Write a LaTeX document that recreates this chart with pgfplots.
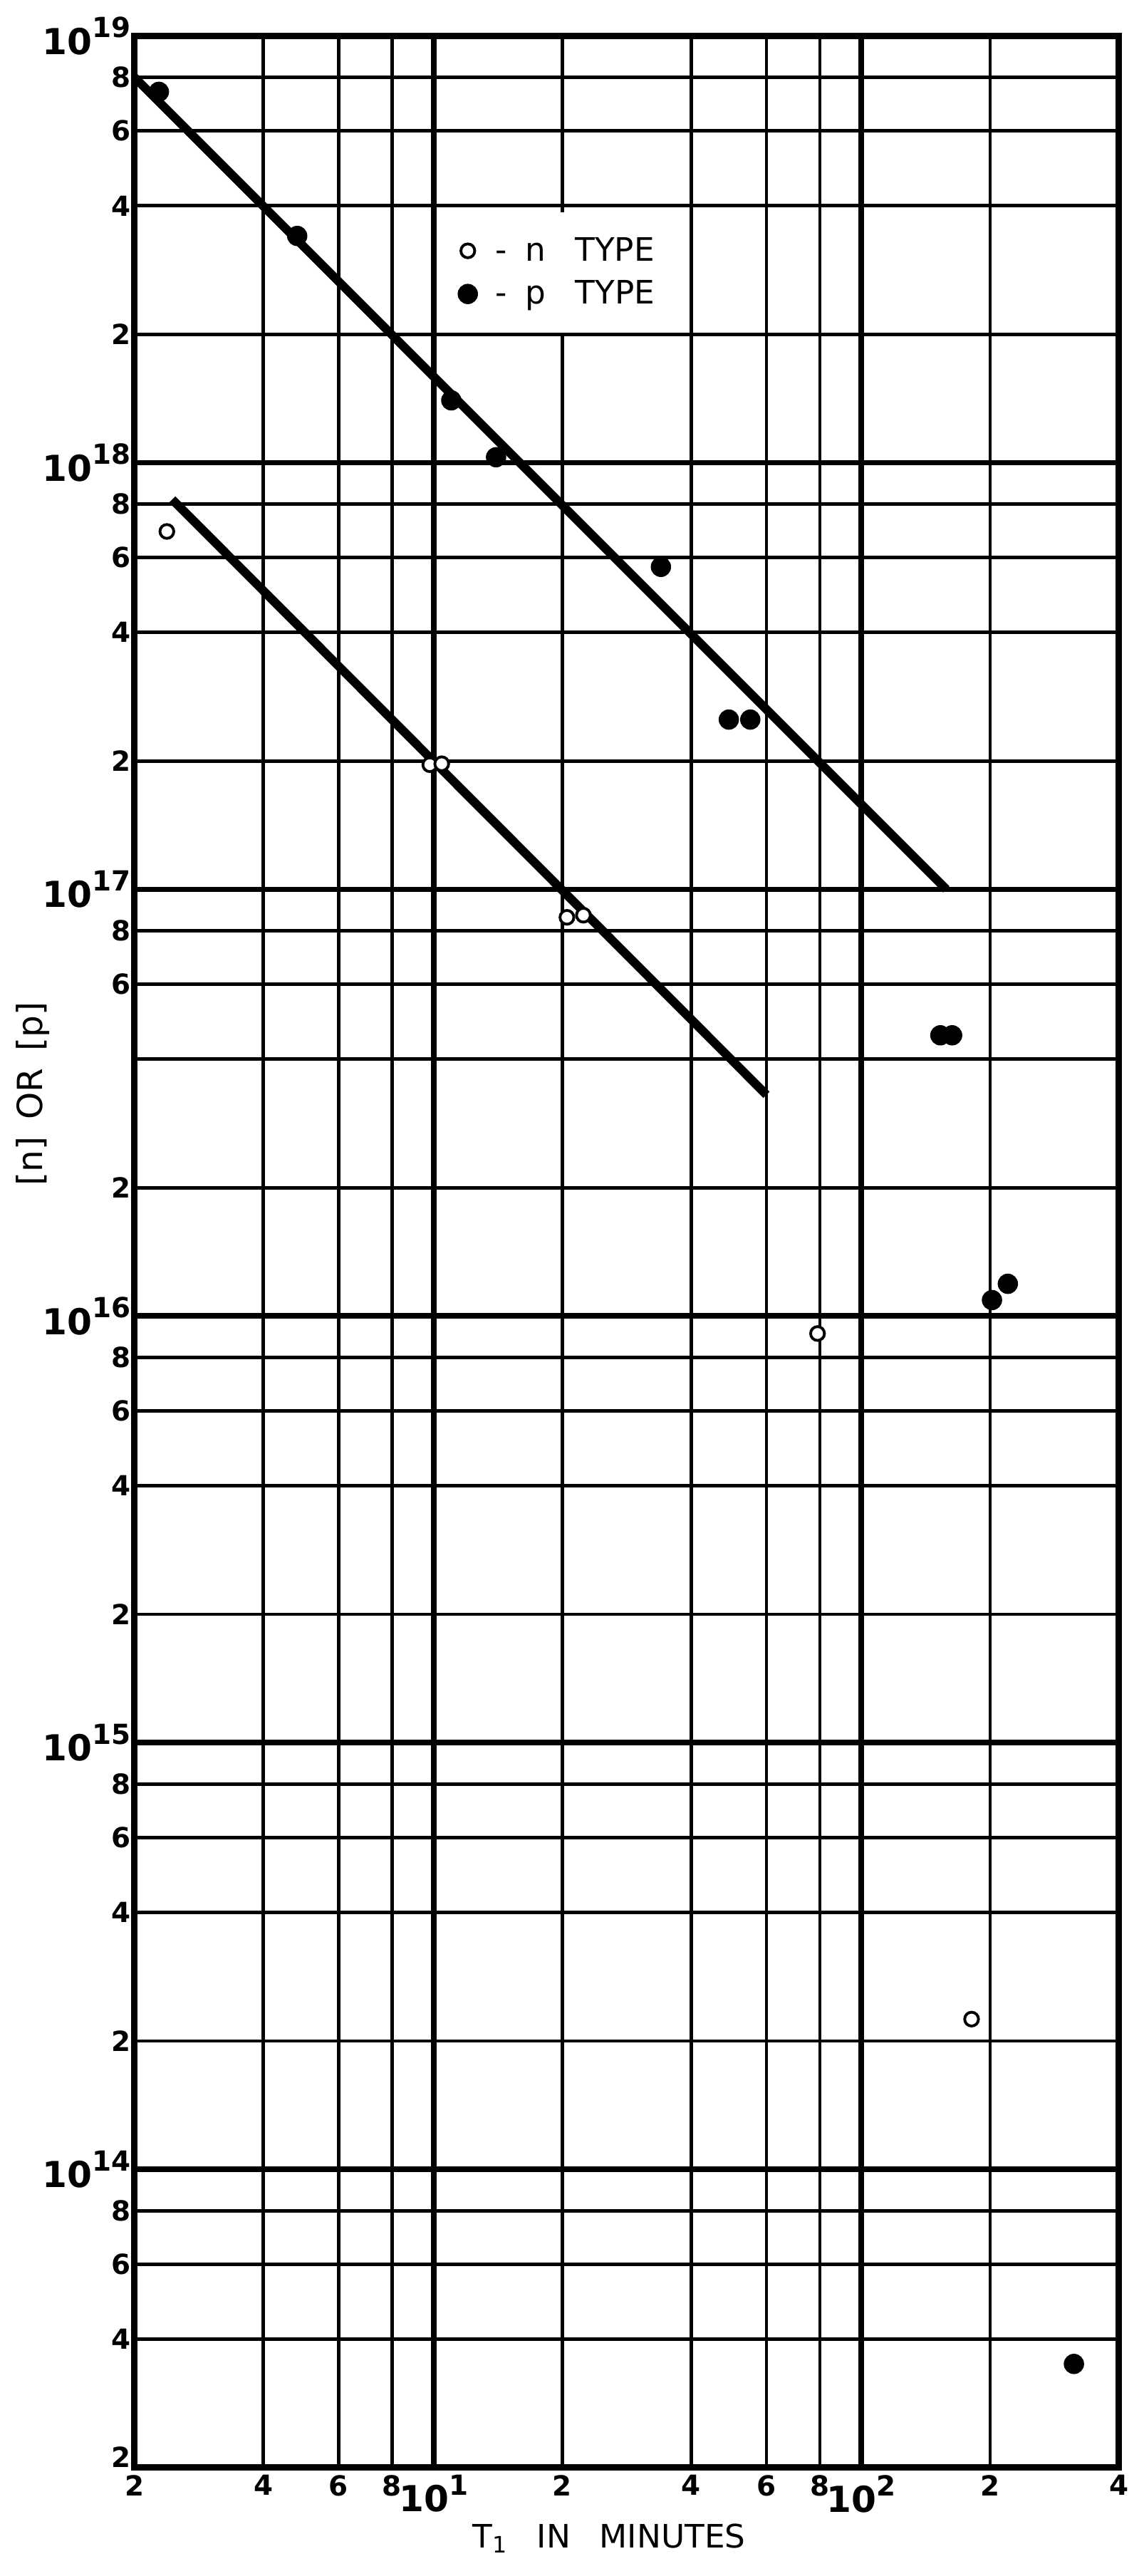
\documentclass[border=0pt]{standalone}
\usepackage{fontspec}
\setmainfont{DejaVu Sans}
\usepackage{pgfplots}
\pgfplotsset{compat=1.18}

% power-of-ten label: big "10" with a small bold exponent
\newcommand{\dec}[1]{{\fontsize{15.5}{15.5}\selectfont 10}\raisebox{1.1ex}{\fontsize{12}{12}\selectfont\bfseries #1}}

\begin{document}
\begin{tikzpicture}
\begin{axis}[
    scale only axis,
    width=150mm, height=370.5mm,
    xmode=log, ymode=log,
    xmin=2, xmax=400, ymin=2e13, ymax=1e19,
    axis line style={line width=2.8pt},
    major tick length=0pt,
    minor tick num=0,
    xtick={2,4,6,8,20,40,60,80,200,400},
    xticklabels={2,4,6,8,2,4,6,8,2,4},
    extra x ticks={10,100},
    extra x tick labels={\dec{1},\dec{2}},
    ytick={2e13,4e13,6e13,8e13,2e14,4e14,6e14,8e14,2e15,4e15,6e15,8e15,
           2e16,4e16,6e16,8e16,2e17,4e17,6e17,8e17,2e18,4e18,6e18,8e18},
    yticklabels={\raisebox{1.4ex}{2},4,6,8,2,4,6,8,2,4,6,8,2,{},6,8,2,4,6,8,2,4,6,8},
    extra y ticks={1e14,1e15,1e16,1e17,1e18,1e19},
    extra y tick labels={\dec{14},\dec{15},\dec{16},\dec{17},\dec{18},\dec{19}},
    grid=major,
    major grid style={line width=1.5pt, black},
    extra tick style={major grid style={line width=2.4pt, black}},
    ticklabel style={font=\fontsize{12}{12}\selectfont\bfseries},
    yticklabel style={inner xsep=1.5pt},
    xticklabel style={inner ysep=3pt},
    xlabel={T\textsubscript{1}\hspace{0.9em}IN\hspace{0.9em}MINUTES},
    xlabel style={at={(axis description cs:0.482,-0.029)}, anchor=center,
                  font=\fontsize{14}{16}\selectfont},
    ylabel={[n]\hspace{0.5em}OR\hspace{0.5em}[p]},
    ylabel style={at={(axis description cs:-0.103,0.565)}, anchor=center,
                  font=\fontsize{15}{17}\selectfont},
    legend style={at={(axis cs:10.7,3.88e18)}, anchor=north west,
                  draw=none, fill=white, font=\fontsize{14}{16}\selectfont,
                  inner xsep=5pt, inner ysep=9pt, row sep=3pt},
    legend cell align=left,
]
% fitted lines
\addplot[black, line width=3.8pt, forget plot] coordinates {(2,8e18) (158,1.0e17)};
\addplot[black, line width=3.8pt, forget plot] coordinates {(2.45,8.2e17) (60,3.3e16)};

% n type (open circles)
\addplot[only marks, mark=*, mark size=3pt,
         mark options={fill=white, draw=black, line width=1.2pt}] coordinates {
    (2.38,6.9e17)
    (9.8,1.96e17) (10.45,1.97e17)
    (20.5,8.6e16) (22.4,8.7e16)
    (79,9.1e15)
    (181,2.25e14)
};
\addlegendentry{\hspace{2mm}-\hspace{2.8mm}n\hspace{4.5mm}TYPE}

% p type (filled circles)
\addplot[only marks, mark=*, mark size=4.2pt, black] coordinates {
    (2.28,7.4e18)
    (4.8,3.4e18)
    (11,1.4e18)
    (14,1.03e18)
    (34,5.7e17)
    (49,2.5e17) (55,2.5e17)
    (153,4.55e16) (163,4.55e16)
    (202,1.09e16) (220,1.19e16)
    (314,3.5e13)
};
\addlegendentry{\hspace{2mm}-\hspace{2.8mm}p\hspace{4.5mm}TYPE}
\end{axis}
\pgfresetboundingbox
\path[use as bounding box] (-20.5mm,-16.5mm) rectangle (153.75mm,376mm);
\end{tikzpicture}
\end{document}
